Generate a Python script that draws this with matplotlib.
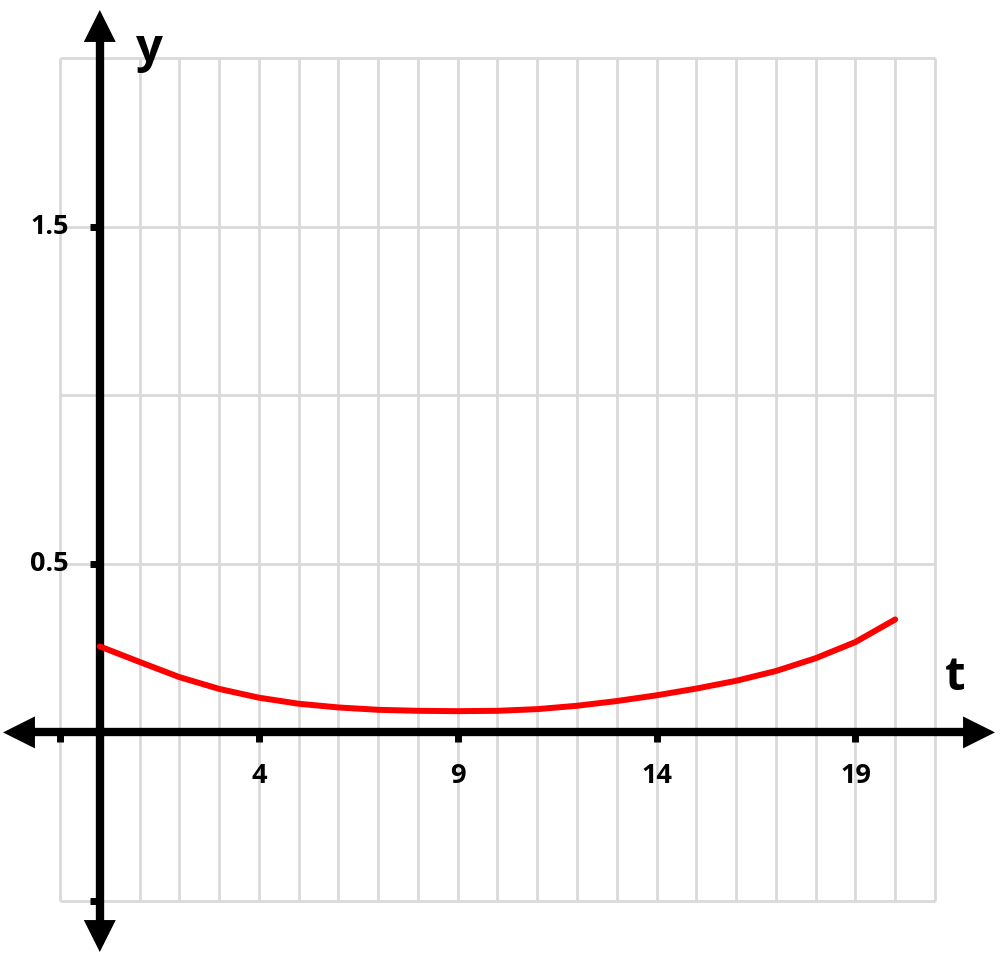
import numpy as np
import matplotlib
matplotlib.use("Agg")
import matplotlib.pyplot as plt

# Data
t_vals = list(range(0, 21))
y_vals = [0.255, 0.209, 0.164, 0.129, 0.103, 0.085, 0.074, 0.067, 0.064, 0.063,
          0.064, 0.069, 0.079, 0.093, 0.110, 0.130, 0.153, 0.182, 0.220, 0.268, 0.335]
x_ticks = [-1, 4, 9, 14, 19]
x_tick_labels = ["", "4", "9", "14", "19"]
y_ticks = [-0.5, 0.5, 1.5]
y_tick_labels = ["", "0.5", "1.5"]
x_grid = list(range(-1, 22))
y_grid = [-0.5, 0.0, 0.5, 1.0, 1.5, 2.0]

plt.rcParams['font.family'] = ['Open Sans', 'DejaVu Sans']

fig = plt.figure(figsize=(10, 9.6), dpi=100)
ax = fig.add_axes([0, 0, 1, 1])
ax.axis('off')

PX = 39.77   # pixels per t unit
PY = 337.2   # pixels per y unit
xmin, xmax = -1 - 60 / PX, 21 + 65 / PX
ymin, ymax = -0.5 - 59 / PY, 2.0 + 58 / PY
ax.set_xlim(xmin, xmax)
ax.set_ylim(ymin, ymax)

grid_color = '#d9d9d9'
ax.vlines(x_grid, y_grid[0], y_grid[-1], colors=grid_color, lw=2, zorder=1)
ax.hlines(y_grid, x_grid[0], x_grid[-1], colors=grid_color, lw=2, zorder=1)

# Axes lines
ax_lw = 6
x_left, x_right = xmin + 30 / PX, xmax - 30 / PX
y_top, y_bot = ymax - 40 / PY, ymin + 38 / PY
ax.plot([x_left, x_right], [0, 0], color='black', lw=ax_lw, zorder=3, solid_capstyle='butt')
ax.plot([0, 0], [y_bot, y_top], color='black', lw=ax_lw, zorder=3, solid_capstyle='butt')
style = '<|-|>,head_length=2.3,head_width=1.15'
ax.annotate('', xy=(xmin + 3 / PX, 0), xytext=(xmax - 5 / PX, 0),
            arrowprops=dict(arrowstyle=style, lw=0, color='black', shrinkA=0, shrinkB=0,
                            mutation_scale=10), zorder=4)
ax.annotate('', xy=(0, ymin + 8 / PY), xytext=(0, ymax - 10 / PY),
            arrowprops=dict(arrowstyle=style, lw=0, color='black', shrinkA=0, shrinkB=0,
                            mutation_scale=10), zorder=4)

# Ticks
for xt, lab in zip(x_ticks, x_tick_labels):
    ax.plot([xt, xt], [0, -10 / PY], color='black', lw=5, zorder=3, solid_capstyle='butt')
    if lab:
        ax.text(xt, -44 / PY, lab, ha='center', va='center', fontsize=19.5,
                fontweight='bold', zorder=5)
for yt, lab in zip(y_ticks, y_tick_labels):
    ax.plot([-10 / PX, 0], [yt, yt], color='black', lw=5, zorder=3, solid_capstyle='butt')
    if lab:
        ax.text(-31 / PX, yt, lab, ha='right', va='center', fontsize=19.5,
                fontweight='bold', zorder=5)

# Axis labels
ax.text(50 / PX, ymax - 50 / PY, 'y', ha='center', va='center', fontsize=34,
        fontweight='bold')
ax.text(xmax - 45 / PX, 55 / PY, 't', ha='center', va='center', fontsize=34,
        fontweight='bold')

# Curve
ax.plot(t_vals, y_vals, color='#ff0000', lw=4.3, zorder=6, solid_capstyle='round',
        solid_joinstyle='round', antialiased=True)

fig.savefig('out.png', dpi=100)
